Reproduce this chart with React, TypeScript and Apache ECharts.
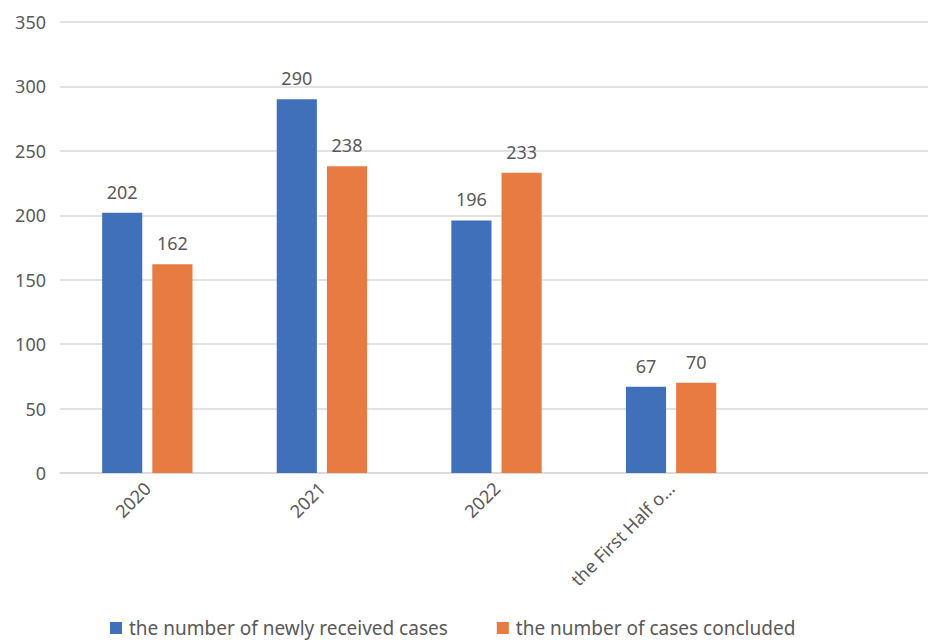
import React, { useEffect, useRef } from "react";
import * as echarts from "echarts";

const categories = ["2020", "2021", "2022", "the First Half o…", ""];
const newlyReceived = [202, 290, 196, 67, null];
const concluded = [162, 238, 233, 70, null];
const seriesNames = ["the number of newly received cases", "the number of cases concluded"];
const yTicks = { min: 0, max: 350, interval: 50 };

const FONT = "'Noto Sans', 'Liberation Sans', Arial, sans-serif";
const GRAY = "#595959";

export default function App() {
  const ref = useRef<HTMLDivElement>(null);
  useEffect(() => {
    const chart = echarts.init(ref.current!, null, { renderer: "svg" });
    chart.setOption({
      animation: false,
      textStyle: { fontFamily: FONT },
      grid: { left: 60, right: 1, top: 22, bottom: 169, containLabel: false },
      legend: {
        top: 618,
        left: 110,
        padding: 0,
        itemWidth: 12,
        itemHeight: 12,
        itemGap: 49,
        icon: "rect",
        textStyle: { color: GRAY, fontSize: 19, lineHeight: 20, fontFamily: FONT, padding: [0, 0, 0, 2] },
        data: seriesNames,
      },
      xAxis: {
        type: "category",
        data: categories,
        axisLine: { lineStyle: { color: "#d9d9d9", width: 1.5 } },
        axisTick: { show: false },
        axisLabel: { rotate: 45, color: GRAY, fontSize: 18, margin: 12, fontFamily: FONT, interval: 0 },
      },
      yAxis: {
        type: "value",
        min: yTicks.min,
        max: yTicks.max,
        interval: yTicks.interval,
        axisLine: { show: false },
        axisTick: { show: false },
        axisLabel: { color: GRAY, fontSize: 18, margin: 14, fontFamily: FONT },
        splitLine: { lineStyle: { color: "#d9d9d9", width: 1.5 } },
      },
      series: [
        {
          name: seriesNames[0],
          type: "bar",
          data: newlyReceived,
          barWidth: "23%",
          barGap: "25%",
          itemStyle: { color: "#4070BA" },
          label: { show: true, position: "top", distance: 12, color: GRAY, fontSize: 18, fontFamily: FONT },
        },
        {
          name: seriesNames[1],
          type: "bar",
          data: concluded,
          barWidth: "23%",
          barGap: "25%",
          itemStyle: { color: "#E77B41" },
          label: { show: true, position: "top", distance: 12, color: GRAY, fontSize: 18, fontFamily: FONT },
        },
      ],
    });
    return () => chart.dispose();
  }, []);
  return <div ref={ref} style={{ position: "fixed", left: 0, top: 0, width: 934, height: 642, background: "#fff" }} />;
}
